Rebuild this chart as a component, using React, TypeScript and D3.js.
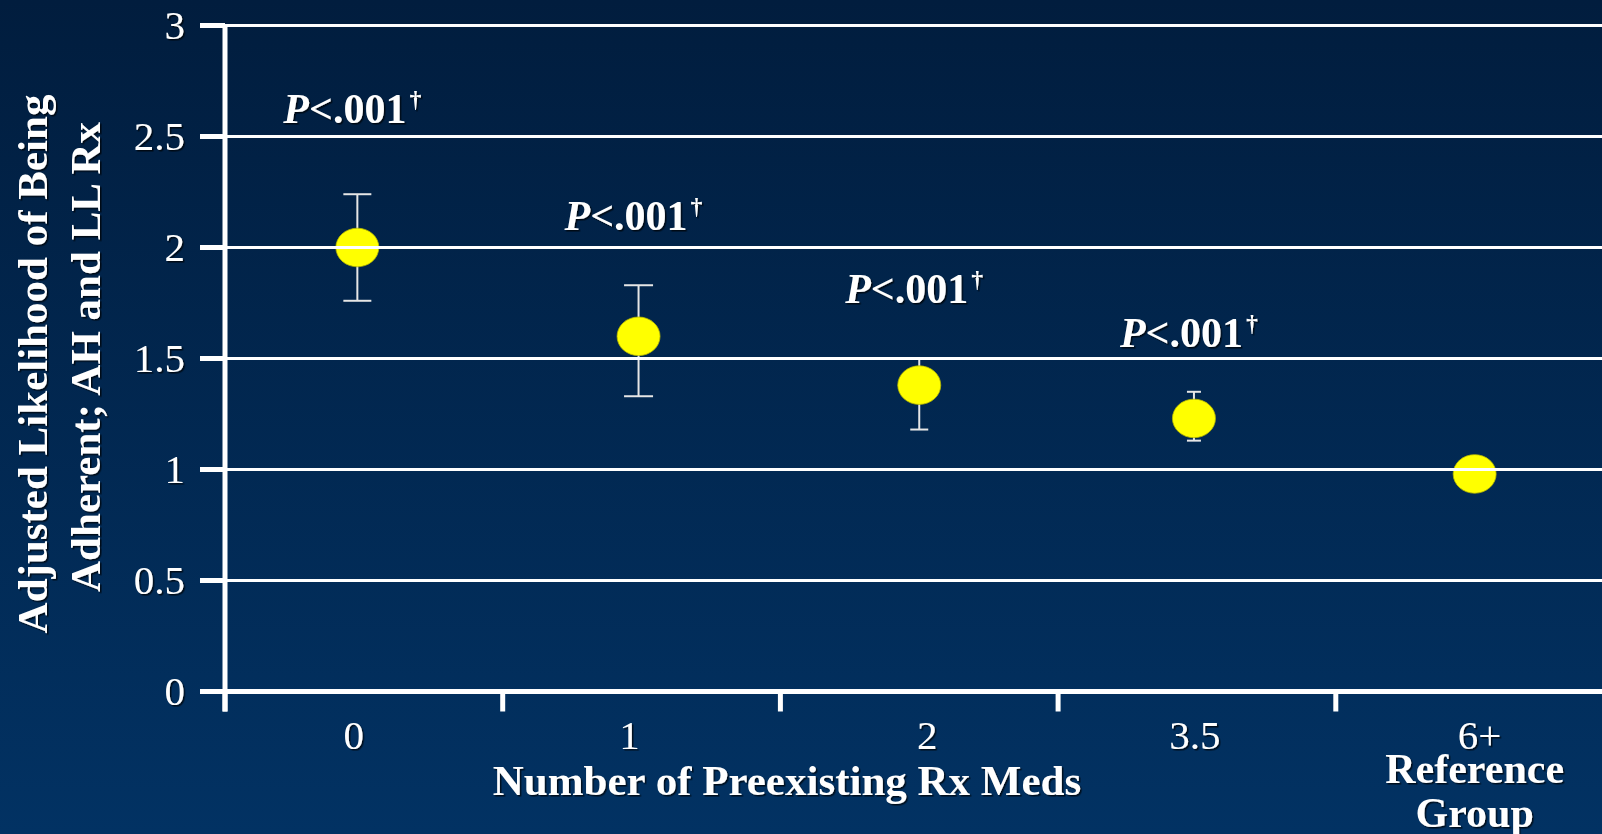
import React from "react";
import * as d3 from "d3";

const categories = ["0", "1", "2", "3.5", "6+"];
const estimates = [2.0, 1.6, 1.38, 1.23, 0.98];
const lowerCI = [1.76, 1.33, 1.18, 1.13, null];
const upperCI = [2.24, 1.83, 1.5, 1.35, null];
const pLabelCategories = ["0", "1", "2", "3.5"];
const pLabelLevels = [2.56, 2.08, 1.75, 1.55];
const yTicks = [0, 0.5, 1, 1.5, 2, 2.5, 3];
const yTickLabels = ["0", "0.5", "1", "1.5", "2", "2.5", "3"];

// styling / layout nudges (pixels), kept apart from the data
const capWidths = [28, 29, 18, 14, 0];
const markNudge = [-6.5, -3, 0, -3, 0];
const labelNudge = [-10, -12, 8, -2, 5];

const W = 1602;
const H = 834;
const SERIF = "'Liberation Serif', 'Times New Roman', Times, serif";

export default function App() {
  const y = d3.scaleLinear().domain([0, 3]).range([691.5, 25.5]);
  const x = d3
    .scaleBand<string>()
    .domain(categories)
    .range([225, 225 + 277.7 * categories.length])
    .paddingInner(0)
    .paddingOuter(0);
  const center = (c: string) => (x(c) as number) + x.bandwidth() / 2;
  const cx = (c: string) => center(c) + markNudge[categories.indexOf(c)];
  const lx = (c: string) => center(c) + labelNudge[categories.indexOf(c)];
  const x0 = 225;

  const tickXs = categories.map((c) => x(c) as number);

  return (
    <svg
      width={W}
      height={H}
      style={{ position: "absolute", left: 0, top: 0, display: "block" }}
      fontFamily={SERIF}
    >
      <defs>
        <linearGradient id="bg" x1="0" y1="0" x2="0" y2="1">
          <stop offset="0" stopColor="#011d3e" />
          <stop offset="1" stopColor="#023263" />
        </linearGradient>
        <filter id="sh" x="-10%" y="-10%" width="120%" height="130%">
          <feDropShadow dx="1.5" dy="1.5" stdDeviation="0.6" floodColor="#000" floodOpacity="0.7" />
        </filter>
      </defs>
      <rect x={0} y={0} width={W} height={H} fill="url(#bg)" />

      {categories.map((c, i) =>
        lowerCI[i] == null ? null : (
          <g key={"eb" + c} stroke="#e6e6e6" strokeWidth={2}>
            <line x1={cx(c)} x2={cx(c)} y1={y(upperCI[i] as number)} y2={y(lowerCI[i] as number)} />
            <line
              x1={cx(c) - capWidths[i] / 2}
              x2={cx(c) + capWidths[i] / 2}
              y1={y(upperCI[i] as number)}
              y2={y(upperCI[i] as number)}
            />
            <line
              x1={cx(c) - capWidths[i] / 2}
              x2={cx(c) + capWidths[i] / 2}
              y1={y(lowerCI[i] as number)}
              y2={y(lowerCI[i] as number)}
            />
          </g>
        )
      )}

      {categories.map((c, i) => (
        <ellipse
          key={"d" + c}
          cx={cx(c)}
          cy={y(estimates[i])}
          rx={21.5}
          ry={19.3}
          fill="#ffff00"
          stroke="#b8b800"
          strokeWidth={0.8}
        />
      ))}

      {yTicks
        .filter((t) => t > 0)
        .map((t) => (
          <line key={"g" + t} x1={x0} x2={W} y1={y(t)} y2={y(t)} stroke="#ffffff" strokeWidth={3} />
        ))}

      <line x1={x0} x2={x0} y1={y(3) - 1.5} y2={y(0) + 20} stroke="#ffffff" strokeWidth={5} />
      {yTicks.map((t) => (
        <line key={"yt" + t} x1={200} x2={x0} y1={y(t)} y2={y(t)} stroke="#ffffff" strokeWidth={5} />
      ))}
      <line x1={x0} x2={W} y1={y(0)} y2={y(0)} stroke="#ffffff" strokeWidth={5} />
      {tickXs.map((tx, i) => (
        <line key={"xt" + i} x1={tx} x2={tx} y1={y(0)} y2={y(0) + 20} stroke="#ffffff" strokeWidth={5} />
      ))}

      <g fill="#ffffff" filter="url(#sh)">
        {yTicks.map((t, i) => (
          <text key={"yl" + t} x={185} y={y(t)} dy="0.34em" textAnchor="end" fontSize={41}>
            {yTickLabels[i]}
          </text>
        ))}
        {categories.map((c) => (
          <text key={"xl" + c} x={lx(c)} y={749} textAnchor="middle" fontSize={41}>
            {c}
          </text>
        ))}
        <text x={center("6+")} y={783} textAnchor="middle" fontSize={42} fontWeight="bold">
          Reference
        </text>
        <text x={center("6+")} y={827} textAnchor="middle" fontSize={42} fontWeight="bold">
          Group
        </text>
        <text x={787} y={795} textAnchor="middle" fontSize={43} fontWeight="bold">
          Number of Preexisting Rx Meds
        </text>
        <g transform="translate(47, 361) rotate(-90)">
          <text x={-3} y={0} textAnchor="middle" fontSize={43} fontWeight="bold">
            Adjusted Likelihood of Being
          </text>
          <text x={4} y={53} textAnchor="middle" fontSize={43} fontWeight="bold">
            Adherent; AH and LL Rx
          </text>
        </g>
        {pLabelCategories.map((c, i) => (
          <text
            key={"p" + c}
            x={cx(c) - 5}
            y={y(pLabelLevels[i])}
            textAnchor="middle"
            fontSize={42}
            fontWeight="bold"
          >
            <tspan fontStyle="italic">P</tspan>
            <tspan>{"<.001"}</tspan>
            <tspan fontSize={24} dy={-16} dx={3}>
              {"\u2020"}
            </tspan>
          </text>
        ))}
      </g>
    </svg>
  );
}
